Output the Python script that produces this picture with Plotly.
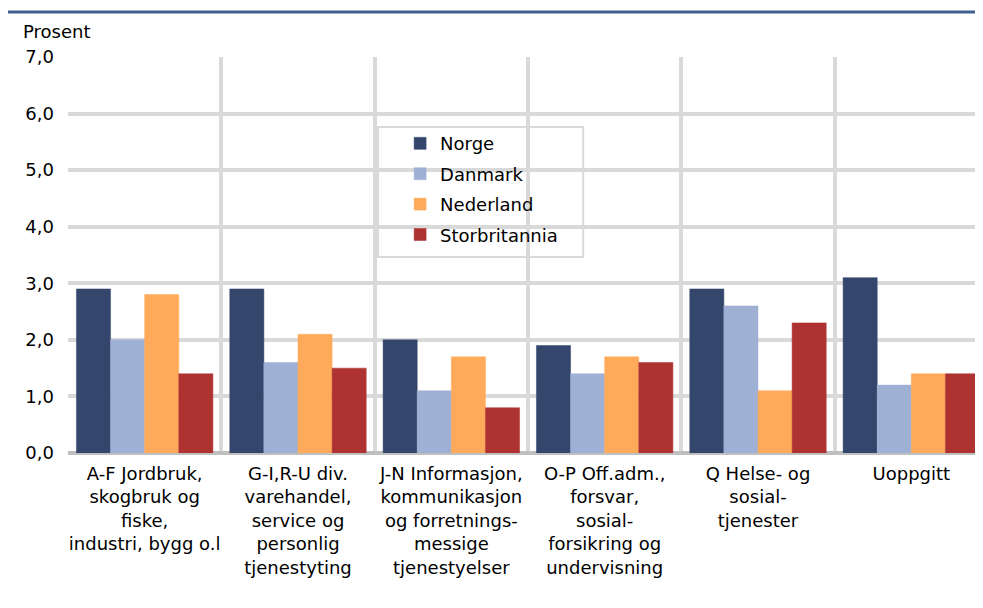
import plotly.graph_objects as go

# ── Data
categories = [
    'A-F Jordbruk,<br>skogbruk og<br>fiske,<br>industri, bygg o.l',
    'G-I,R-U div.<br>varehandel,<br>service og<br>personlig<br>tjenestyting',
    'J-N Informasjon,<br>kommunikasjon<br>og forretnings-<br>messige<br>tjenestyelser',
    'O-P Off.adm.,<br>forsvar,<br>sosial-<br>forsikring og<br>undervisning',
    'Q Helse- og<br>sosial-<br>tjenester',
    'Uoppgitt',
]
norge         = [2.9, 2.9, 2.0, 1.9, 2.9, 3.1]
danmark       = [2.0, 1.6, 1.1, 1.4, 2.6, 1.2]
nederland     = [2.8, 2.1, 1.7, 1.7, 1.1, 1.4]
storbritannia = [1.4, 1.5, 0.8, 1.6, 2.3, 1.4]
y_ticks = [0, 1, 2, 3, 4, 5, 6, 7]

# ── Style
FONT = 'DejaVu Sans, Liberation Sans, Arial, sans-serif'
FS = 18
GRID = '#d9d9d9'
series = [
    ('Norge', norge, '#34466b'),
    ('Danmark', danmark, '#9eb0d4'),
    ('Nederland', nederland, '#ffaa5a'),
    ('Storbritannia', storbritannia, '#ae3232'),
]

x_pos = list(range(len(categories)))
boundaries = [i - 0.5 for i in range(len(categories) + 1)]

fig = go.Figure()
for name, vals, color in series:
    fig.add_trace(go.Bar(
        x=x_pos, y=vals, name=name, legendgroup=name,
        marker=dict(color=color, line=dict(color=color, width=0.5)),
    ))

# the html page adds an 8px body margin, so margins are shifted by 8
# plot area (figure px): x 60..980, y 49..445
fig.update_layout(
    width=983, height=608,
    margin=dict(l=60, r=3, t=49, b=163, autoexpand=False),
    paper_bgcolor='white', plot_bgcolor='white',
    font=dict(family=FONT, size=FS, color='#000000'),
    barmode='group', bargap=0.11, bargroupgap=0,
    separators=', ',
    showlegend=True,
    legend=dict(
        x=0.361, y=0.828, xanchor='left', yanchor='top',
        bgcolor='rgba(0,0,0,0)', borderwidth=0,
        font=dict(size=FS), tracegroupgap=4, itemwidth=30,
    ),
    xaxis=dict(
        range=[-0.5, len(categories) - 0.5],
        tickvals=x_pos, ticktext=categories,
        showgrid=False, zeroline=False, ticks='', automargin=False,
        tickfont=dict(size=FS), ticklabelstandoff=8,
        minor=dict(tickvals=boundaries, showgrid=True, gridcolor=GRID, gridwidth=4, ticks=''),
    ),
    yaxis=dict(
        range=[0, 7], tickvals=y_ticks, tickformat='.1f', automargin=False,
        showgrid=True, gridcolor=GRID, gridwidth=4,
        zeroline=True, zerolinecolor='#bfbfbf', zerolinewidth=4,
        ticks='', tickfont=dict(size=FS), ticklabelstandoff=13,
    ),
    shapes=[
        dict(type='line', xref='paper', yref='paper',
             x0=-0.068, x1=1.01, y0=1.1136, y1=1.1136,
             line=dict(color='#3f5f8f', width=3)),
        dict(type='rect', xref='paper', yref='paper',
             x0=0.337, x1=0.560, y0=0.495, y1=0.823,
             fillcolor='white', line=dict(color=GRID, width=2), layer='below'),
    ],
    annotations=[dict(text='Prosent', xref='paper', yref='paper',
                      x=-0.051, y=1.033, xanchor='left', yanchor='bottom',
                      showarrow=False, font=dict(size=FS))],
)

fig.write_html('out.html')
